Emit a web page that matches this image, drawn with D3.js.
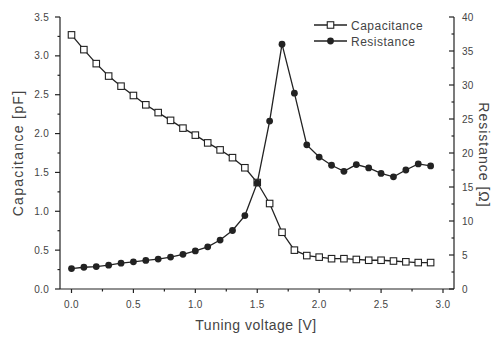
<!DOCTYPE html>
<html><head><meta charset="utf-8">
<script src="https://cdn.jsdelivr.net/npm/d3@7"></script>
<style>
html,body{margin:0;padding:0;background:#fff;}
svg{display:block;font-family:"Liberation Sans",Arial,sans-serif;}
</style></head>
<body>
<svg id="chart" width="493" height="341"></svg>
<script>
const voltage = [0.0,0.1,0.2,0.3,0.4,0.5,0.6,0.7,0.8,0.9,1.0,1.1,1.2,1.3,1.4,1.5,1.6,1.7,1.8,1.9,2.0,2.1,2.2,2.3,2.4,2.5,2.6,2.7,2.8,2.9];
const capacitance = [3.27,3.08,2.90,2.74,2.61,2.49,2.37,2.27,2.17,2.07,1.98,1.88,1.79,1.69,1.56,1.37,1.10,0.73,0.50,0.43,0.41,0.39,0.39,0.38,0.37,0.37,0.36,0.35,0.34,0.34];
const resistance = [3.0,3.2,3.3,3.5,3.8,4.0,4.2,4.4,4.7,5.1,5.6,6.2,7.2,8.6,10.8,15.6,24.7,36.0,28.8,21.2,19.4,18.2,17.3,18.3,17.8,17.0,16.5,17.5,18.4,18.1];
const xTicks = [0.0,0.5,1.0,1.5,2.0,2.5,3.0];
const capTicks = [0.0,0.5,1.0,1.5,2.0,2.5,3.0,3.5];
const resTicks = [0,5,10,15,20,25,30,35,40];
const seriesNames = ["Capacitance","Resistance"];

const svg = d3.select("#chart");
const ink = "#222";
const textCol = "#444";
const L = 60, R = 454, T = 17, B = 289;

const x = d3.scaleLinear().domain([0,3]).range([71.5,443]);
const yC = d3.scaleLinear().domain([0,3.5]).range([B,T]);
const yR = d3.scaleLinear().domain([0,40]).range([B,T]);

// axis lines
const g = svg.append("g").attr("stroke",ink).attr("stroke-width",1.2).attr("fill","none");
g.append("line").attr("x1",L).attr("x2",R).attr("y1",B).attr("y2",B);
g.append("line").attr("x1",L).attr("x2",L).attr("y1",B).attr("y2",T);
g.append("line").attr("x1",R).attr("x2",R).attr("y1",B).attr("y2",T);

// bottom ticks
d3.range(0,3.01,0.25).forEach(v=>{
  const major = Math.abs(v*2-Math.round(v*2))<1e-6;
  g.append("line").attr("x1",x(v)).attr("x2",x(v)).attr("y1",B).attr("y2",B+(major?4:2.5));
});
svg.append("g").selectAll("text").data(xTicks).join("text")
  .attr("x",d=>x(d)).attr("y",B+19).attr("text-anchor","middle")
  .attr("font-size",10).attr("letter-spacing",0.3).attr("fill",textCol).text(d=>d.toFixed(1));

// left ticks
d3.range(0,3.51,0.25).forEach(v=>{
  const major = Math.abs(v*2-Math.round(v*2))<1e-6;
  g.append("line").attr("x1",L).attr("x2",L-(major?5:2.5)).attr("y1",yC(v)).attr("y2",yC(v));
});
svg.append("g").selectAll("text").data(capTicks).join("text")
  .attr("x",L-11).attr("y",d=>yC(d)+3.5).attr("text-anchor","end")
  .attr("font-size",10).attr("letter-spacing",0.3).attr("fill",textCol).text(d=>d.toFixed(1));

// right ticks (inward)
d3.range(0,40.01,2.5).forEach(v=>{
  const major = Math.abs(v/5-Math.round(v/5))<1e-6;
  g.append("line").attr("x1",R).attr("x2",R-(major?5:2.5)).attr("y1",yR(v)).attr("y2",yR(v));
});
svg.append("g").selectAll("text").data(resTicks).join("text")
  .attr("x",R+8).attr("y",d=>yR(d)+3.5).attr("text-anchor","start")
  .attr("font-size",10).attr("letter-spacing",0.3).attr("fill",textCol).text(d=>d);

// axis titles
svg.append("text").attr("x",256).attr("y",330).attr("text-anchor","middle")
  .attr("font-size",14).attr("letter-spacing",0.5).attr("fill",textCol).text("Tuning voltage [V]");
svg.append("text").attr("transform","translate(23,153) rotate(-90)").attr("text-anchor","middle")
  .attr("font-size",14).attr("letter-spacing",1.3).attr("fill",textCol).text("Capacitance [pF]");
svg.append("text").attr("transform","translate(479,155) rotate(90)").attr("text-anchor","middle")
  .attr("font-size",14).attr("letter-spacing",1).attr("fill",textCol).text("Resistance [Ω]");

// data
const capData = voltage.map((v,i)=>[v,capacitance[i]]);
const resData = voltage.map((v,i)=>[v,resistance[i]]);

svg.append("path").datum(capData).attr("fill","none").attr("stroke",ink).attr("stroke-width",1.3)
  .attr("d",d3.line().x(d=>x(d[0])).y(d=>yC(d[1])));
svg.append("path").datum(resData).attr("fill","none").attr("stroke",ink).attr("stroke-width",1.3)
  .attr("d",d3.line().x(d=>x(d[0])).y(d=>yR(d[1])));

const sq = 6.5;
svg.append("g").selectAll("rect").data(capData).join("rect")
  .attr("x",d=>x(d[0])-sq/2).attr("y",d=>yC(d[1])-sq/2).attr("width",sq).attr("height",sq)
  .attr("fill","#fff").attr("stroke",ink).attr("stroke-width",1.1);
svg.append("g").selectAll("circle").data(resData).join("circle")
  .attr("cx",d=>x(d[0])).attr("cy",d=>yR(d[1])).attr("r",3.4).attr("fill",ink);

// legend
const lg = svg.append("g");
const ly = [25,41];
seriesNames.forEach((name,i)=>{
  lg.append("line").attr("x1",314).attr("x2",347).attr("y1",ly[i]).attr("y2",ly[i]).attr("stroke",ink).attr("stroke-width",1.3);
  if(i===0){
    lg.append("rect").attr("x",330.5-sq/2).attr("y",ly[i]-sq/2).attr("width",sq).attr("height",sq)
      .attr("fill","#fff").attr("stroke",ink).attr("stroke-width",1.1);
  } else {
    lg.append("circle").attr("cx",330.5).attr("cy",ly[i]).attr("r",3.4).attr("fill",ink);
  }
  lg.append("text").attr("x",351).attr("y",ly[i]+4.5).attr("font-size",12).attr("letter-spacing",0.5)
    .attr("fill",textCol).text(name);
});
</script>
</body></html>
